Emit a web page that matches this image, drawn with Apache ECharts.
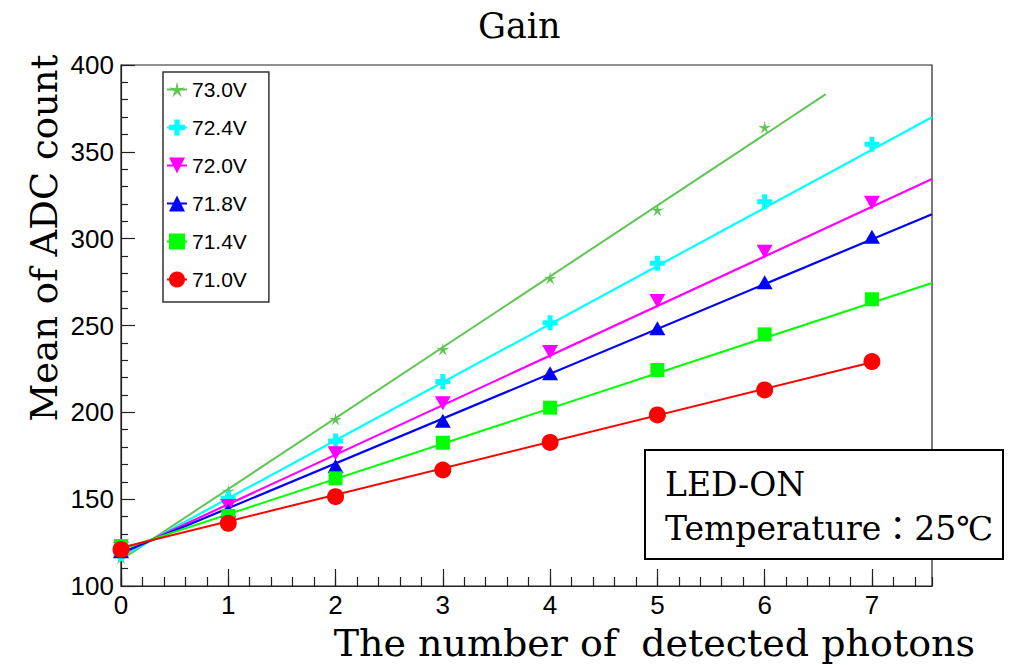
<!DOCTYPE html>
<html>
<head>
<meta charset="utf-8">
<script src="https://cdn.jsdelivr.net/npm/echarts@6/dist/echarts.min.js"></script>
<style>
html,body{margin:0;padding:0;background:#fff;}
#chart{width:1012px;height:665px;}
</style>
</head>
<body>
<div id="chart"></div>
<script>
// ---- data ----
const photons = [0, 1, 2, 3, 4, 5, 6, 7];
const seriesNames = ['73.0V', '72.4V', '72.0V', '71.8V', '71.4V', '71.0V'];
const v730 = [116.3, 154.7, 196.0, 236.3, 277.2, 316.5, 364.1];
const v724 = [118.6, 150.5, 183.5, 217.7, 251.6, 285.8, 321.3, 354.3];
const v720 = [121.5, 146.0, 176.5, 205.2, 234.8, 264.1, 292.5, 320.7];
const v718 = [120.0, 143.5, 169.1, 195.2, 222.5, 248.4, 274.9, 301.1];
const v714 = [123.0, 140.3, 162.0, 182.5, 202.7, 224.4, 244.9, 265.1];
const v710 = [121.0, 136.1, 151.4, 166.8, 182.7, 198.5, 212.9, 229.2];
// fit lines: start / end points
const fitXStart = [0, 0, 0, 0, 0, 0];
const fitXEnd = [6.57, 7.56, 7.56, 7.56, 7.56, 7.0];
const fitYStart = [115.0, 117.0, 118.5, 119.0, 121.0, 122.0];
const fitYEnd = [383.2, 369.9, 334.3, 314.1, 274.5, 228.8];
const yTicks = [100, 150, 200, 250, 300, 350, 400];
const xRange = [0, 7.56];

// ---- styles ----
const colors = ['#5fc653', '#00ffff', '#ff00ff', '#0000ff', '#00ff00', '#ff0000'];
const symbols = [
  'path://M0,-10L1.76,-2.43L9.51,-3.09L2.85,0.93L5.88,8.09L0,3L-5.88,8.09L-2.85,0.93L-9.51,-3.09L-1.76,-2.43Z',
  'path://M-1,-3L1,-3L1,-1L3,-1L3,1L1,1L1,3L-1,3L-1,1L-3,1L-3,-1L-1,-1Z',
  'path://M-1,-0.9L1,-0.9L0,0.9Z',
  'triangle',
  'rect',
  'circle'
];
const symbolSizes = [13, 15, [16, 14], [16, 14], 14, 17];
const lineWidths = [2, 2.2, 2.2, 2.2, 2, 2];
const allValues = [v730, v724, v720, v718, v714, v710];

const lineSeries = seriesNames.map((name, i) => ({
  name: name,
  type: 'line',
  xAxisIndex: 0,
  yAxisIndex: 0,
  data: [[fitXStart[i], fitYStart[i]], [fitXEnd[i], fitYEnd[i]]],
  symbol: symbols[i],
  symbolSize: symbolSizes[i],
  showSymbol: false,
  silent: true,
  lineStyle: { color: colors[i], width: lineWidths[i] },
  itemStyle: { color: colors[i] },
  z: 2
}));
const pointSeries = seriesNames.map((name, i) => ({
  name: name,
  type: 'scatter',
  xAxisIndex: 0,
  yAxisIndex: 0,
  data: allValues[i].map((v, k) => [photons[k], v]),
  symbol: symbols[i],
  symbolSize: symbolSizes[i],
  itemStyle: { color: colors[i], opacity: 1 },
  z: 3
}));

const chart = echarts.init(document.getElementById('chart'), null, { renderer: 'svg' });
const serif = '"DejaVu Serif", "Noto Sans CJK JP", serif';
const sans = 'Liberation Sans';
const axisColor = '#222';

chart.setOption({
  backgroundColor: '#fff',
  animation: false,
  textStyle: { fontFamily: sans },
  title: {
    text: 'Gain',
    left: 478,
    top: 8,
    padding: 0,
    textStyle: { fontFamily: serif, fontSize: 35, fontWeight: 'normal', color: '#000', lineHeight: 35 }
  },
  legend: {
    orient: 'vertical',
    left: 163,
    top: 72,
    padding: [7, 22, 12, 3],
    itemWidth: 20,
    itemHeight: 20,
    itemGap: 17,
    backgroundColor: '#fff',
    borderColor: '#333',
    borderWidth: 1.5,
    borderRadius: 0,
    data: seriesNames,
    textStyle: { fontFamily: sans, fontSize: 21, color: '#000', lineHeight: 20 },
    selectedMode: false,
    z: 10
  },
  grid: {
    left: 121, top: 65, right: 80, bottom: 79,
    show: true, borderColor: axisColor, borderWidth: 1.2, backgroundColor: 'transparent'
  },
  xAxis: [
    {
      type: 'value',
      min: xRange[0], max: xRange[1], interval: 1,
      position: 'bottom',
      axisLine: { show: true, lineStyle: { color: axisColor, width: 1.2 } },
      axisTick: { show: true, inside: true, length: 17, lineStyle: { color: axisColor, width: 1.2 } },
      axisLabel: {
        show: true, showMaxLabel: false, margin: 6,
        fontFamily: sans, fontSize: 26, color: '#000'
      },
      splitLine: { show: false }
    },
    {
      type: 'value',
      min: xRange[0], max: xRange[1], interval: 0.2,
      position: 'bottom',
      offset: 0,
      axisLine: { show: false },
      axisTick: { show: true, inside: true, length: 9, lineStyle: { color: axisColor, width: 1.2 } },
      axisLabel: { show: false },
      splitLine: { show: false }
    }
  ],
  yAxis: {
    type: 'value',
    min: yTicks[0], max: yTicks[yTicks.length - 1], interval: 50,
    axisLine: { show: true, lineStyle: { color: axisColor, width: 1.2 } },
    axisTick: { show: true, inside: true, length: 14, lineStyle: { color: axisColor, width: 1.2 } },
    minorTick: { show: true, splitNumber: 5, length: 7, lineStyle: { color: axisColor, width: 1.2 } },
    axisLabel: {
      margin: 7, fontFamily: sans, fontSize: 26, color: '#000'
    },
    splitLine: { show: false }
  },
  graphic: [
    {
      type: 'text',
      x: 44, y: 238, rotation: Math.PI / 2,
      style: { text: 'Mean of ADC count', font: '37px ' + serif, fill: '#000', align: 'center', verticalAlign: 'middle' },
      z: 20
    },
    {
      type: 'text',
      x: 975, y: 643,
      style: { text: 'The number of  detected photons', font: '38px ' + serif, fill: '#000', align: 'right', verticalAlign: 'middle' },
      z: 20
    },
    {
      type: 'group',
      z: 30,
      children: [
        {
          type: 'rect',
          shape: { x: 645, y: 450, width: 358, height: 109 },
          style: { fill: '#fff', stroke: '#000', lineWidth: 2 },
          z: 30
        },
        {
          type: 'text',
          x: 665, y: 484,
          style: { text: 'LED-ON', font: '33px ' + serif, fill: '#000', align: 'left', verticalAlign: 'middle' },
          z: 31
        },
        {
          type: 'text',
          x: 665, y: 528,
          style: { text: 'Temperature：25℃', font: '33px ' + serif, fill: '#000', align: 'left', verticalAlign: 'middle' },
          z: 31
        }
      ]
    }
  ],
  series: lineSeries.concat(pointSeries)
});
</script>
</body>
</html>
